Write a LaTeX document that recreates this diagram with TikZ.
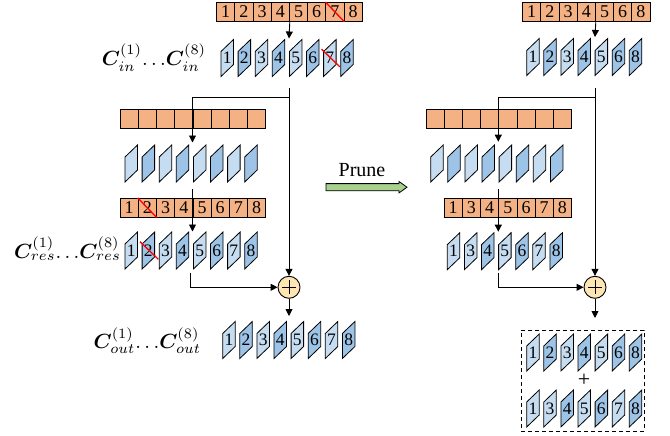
\documentclass[tikz,border=0pt]{standalone}
\usepackage[no-math]{fontspec}
\newfontfamily\tnr{Liberation Serif}
\usepackage{bm}
\usetikzlibrary{arrows.meta,calc}
\definecolor{wOrange}{HTML}{F4B183}
\definecolor{pLight}{HTML}{C5DCF1}
\definecolor{pDark}{HTML}{9DC3E6}
\definecolor{pGreen}{HTML}{A9D18E}
\definecolor{pYellow}{HTML}{FDE6B4}
\tikzset{
  wcell/.style={draw=black, fill=wOrange, line width=0.8pt, minimum width=18.2pt, minimum height=19pt, inner sep=0pt, anchor=north west, font=\tnr\fontsize{18}{18}\selectfont},
  ptext/.style={inner sep=0pt, font=\tnr\fontsize{17.5}{17.5}\selectfont},
  pshape/.style={draw=black, line width=0.8pt},
  arr/.style={line width=0.9pt, -{Triangle[length=7pt,width=7pt]}},
  cut/.style={red, line width=1.3pt},
  addc/.style={circle, draw=black, line width=0.9pt, fill=pYellow, minimum size=22pt, inner sep=0pt},
  lab/.style={scale=2.05, inner sep=0pt},
}
% orange row with labels
\newcommand{\orow}[4]{\foreach \t [count=\i] in {#4} {\node[wcell] (#1\i) at ({#2+(\i-1)*18.2},#3) {\t};}}
% orange row without labels
\newcommand{\erow}[3]{\foreach \i in {1,...,8} {\node[wcell] (#1\i) at ({#2+(\i-1)*18.2},#3) {};}}
% parallelogram row: prefix, x0, ytop, labels, show(1/0)
\newcommand{\prow}[5]{\foreach \t [count=\i] in {#4} {
  \pgfmathsetmacro{\px}{#2+(\i-1)*17.1}
  \ifodd\t\relax\def\pc{pLight}\else\def\pc{pDark}\fi
  \filldraw[pshape, fill=\pc] (\px,#3+12) -- (\px+12.5,#3) -- (\px+12.5,#3+25) -- (\px,#3+37) -- cycle;
  \node[ptext] (#1\i) at (\px+6.25,#3+18.5) {\ifnum#5=1 \t\fi};
}}
\begin{document}
\begin{tikzpicture}[x=1pt,y=-1pt]
\useasboundingbox (0,0) rectangle (670,436);
% ---------------- left ----------------
\orow{Lwa}{216.2}{2}{1,2,3,4,5,6,7,8}
\prow{Lin}{221}{39.5}{1,2,3,4,5,6,7,8}{1}
\erow{Lwb}{119.7}{109}
\prow{Lpb}{125}{145}{1,2,3,4,5,6,7,8}{0}
\orow{Lwc}{119.7}{198}{1,2,3,4,5,6,7,8}
\prow{Lres}{125}{232}{1,2,3,4,5,6,7,8}{1}
\prow{Lout}{222.7}{321.5}{1,2,3,4,5,6,7,8}{1}
\node[addc] (plusL) at (289,287.3) {};
\draw[line width=0.8pt] ($(plusL)+(-7,0)$) -- ($(plusL)+(7,0)$) ($(plusL)+(0,-7)$) -- ($(plusL)+(0,7)$);
\node[lab] (labIn) at (154,57.5) {$\bm{C}_{in}^{(1)}\!\ldots\!\bm{C}_{in}^{(8)}$};
\node[lab] (labRes) at (67.5,249) {$\bm{C}_{res}^{(1)}\!\ldots\!\bm{C}_{res}^{(8)}$};
\node[lab] (labOut) at (147.3,340.5) {$\bm{C}_{out}^{(1)}\!\ldots\!\bm{C}_{out}^{(8)}$};
% red cuts
\draw[cut] (Lwa7.north west) -- (Lwa7.south east);
\draw[cut] ($(Lin7)+(-8.3,-8.8)$) -- ($(Lin7)+(10,8.8)$);
\draw[cut] (Lwc2.north west) -- (Lwc2.south east);
\draw[cut] ($(Lres2)+(-8.3,-8.8)$) -- ($(Lres2)+(10,8.8)$);
% connectors
\coordinate (LinIn) at (289,38.5);
\coordinate (LinOut) at (289,88);
\coordinate (LjA) at (289,97);
\coordinate (LpbIn) at (192.5,142.5);
\coordinate (LpbOut) at (192.5,189);
\coordinate (LresIn) at (192.5,231.5);
\coordinate (LresOut) at (190.5,272.5);
\coordinate (LoutIn) at (289,316);
\draw[arr] (Lwa4.south east) -- (LinIn);
\draw[arr] (LinOut) -- (plusL.north);
\draw[arr] (LjA) -| (LpbIn);
\draw[arr] (LpbOut) -- (LresIn);
\draw[arr] (LresOut) |- (plusL.west);
\draw[arr] (plusL.south) -- (LoutIn);
% ---------------- prune ----------------
\node[inner sep=0pt, font=\tnr\fontsize{20}{20}\selectfont] (pruneT) at (362,170) {Prune};
\filldraw[fill=pGreen, draw=black, line width=0.8pt] (326,183.6) -- (399,183.6) -- (399,181.5) -- (407,187.2) -- (399,192.9) -- (399,190.8) -- (326,190.8) -- cycle;
% ---------------- right ----------------
\orow{Rwa}{522.2}{2}{1,2,3,4,5,6,8}
\prow{Rin}{526.7}{38.5}{1,2,3,4,5,6,8}{1}
\erow{Rwb}{425.5}{109}
\prow{Rpb}{430.7}{145}{1,2,3,4,5,6,7,8}{0}
\orow{Rwc}{443.7}{198}{1,3,4,5,6,7,8}
\prow{Rres}{447.3}{232.7}{1,3,4,5,6,7,8}{1}
\node[addc] (plusR) at (595,287.3) {};
\draw[line width=0.8pt] ($(plusR)+(-7,0)$) -- ($(plusR)+(7,0)$) ($(plusR)+(0,-7)$) -- ($(plusR)+(0,7)$);
\node[draw=black, dashed, dash pattern=on 4pt off 3pt, line width=0.9pt, minimum width=123.3pt, minimum height=100.7pt, inner sep=0pt, anchor=north west] (box) at (520.7,330) {};
\prow{Rba}{526.7}{334}{1,2,3,4,5,6,8}{1}
\node[inner sep=0pt, font=\tnr\fontsize{22}{22}\selectfont] (plusMid) at (584,380) {+};
\prow{Rbb}{526.7}{390}{1,3,4,5,6,7,8}{1}
\coordinate (RinIn) at (595,37);
\coordinate (RinOut) at (595,88);
\coordinate (RjA) at (595,97);
\coordinate (RpbIn) at (498.3,141.7);
\coordinate (RpbOut) at (498.3,189.3);
\coordinate (RresIn) at (498.3,231.7);
\coordinate (RresOut) at (498.3,272.5);
\coordinate (RoutIn) at (595,318);
\draw[arr] (Rwa4.south east) -- (RinIn);
\draw[arr] (RinOut) -- (plusR.north);
\draw[arr] (RjA) -| (RpbIn);
\draw[arr] (RpbOut) -- (RresIn);
\draw[arr] (RresOut) |- (plusR.west);
\draw[arr] (plusR.south) -- (RoutIn);
\end{tikzpicture}
\end{document}
